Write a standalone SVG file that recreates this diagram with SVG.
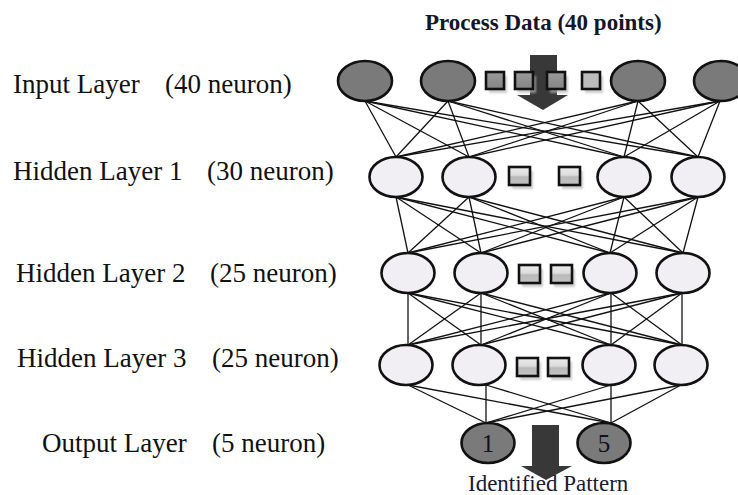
<svg xmlns="http://www.w3.org/2000/svg" width="738" height="495" viewBox="0 0 738 495">
<defs>
<style>
.lbl{font-family:"Liberation Serif","Times New Roman",serif;font-size:27px;fill:#111}
.ttl{font-family:"Liberation Serif","Times New Roman",serif;font-size:23px;font-weight:bold;fill:#15152a}
.pat{font-family:"Liberation Serif","Times New Roman",serif;font-size:23px;fill:#1a1a33}
.num{font-family:"Liberation Serif","Times New Roman",serif;font-size:25px;fill:#111122;text-anchor:middle}
.dark{fill:#7a7a7a;stroke:#111;stroke-width:2.6}
.light{fill:#f1eff3;stroke:#111;stroke-width:2.6}
.sq{stroke:#111;stroke-width:2.6}
.sh{fill:#b8b8b8;opacity:0.7;filter:url(#blur)}
.arr{fill:#383838}
#connectors line{stroke:#111;stroke-width:1.3}
</style>
<filter id="blur" x="-30%" y="-30%" width="160%" height="160%"><feGaussianBlur stdDeviation="1.2"/></filter>
<linearGradient id="gl" x1="0" y1="0" x2="0" y2="1">
<stop offset="0" stop-color="#ececec"/><stop offset="0.45" stop-color="#dcdcdc"/><stop offset="0.55" stop-color="#b9b9b9"/><stop offset="1" stop-color="#c4c4c4"/>
</linearGradient>
<linearGradient id="gd" x1="0" y1="0" x2="0" y2="1">
<stop offset="0" stop-color="#9a9a9a"/><stop offset="1" stop-color="#858585"/>
</linearGradient>
</defs>
<rect width="738" height="495" fill="#fff"/>

<g id="labels">
<text class="ttl" x="425" y="30">Process Data (40 points)</text>
<text class="lbl" x="13" y="93">Input Layer</text><text class="lbl" x="165" y="93">(40 neuron)</text>
<text class="lbl" x="13" y="180">Hidden Layer 1</text><text class="lbl" x="207" y="180">(30 neuron)</text>
<text class="lbl" x="16" y="282">Hidden Layer 2</text><text class="lbl" x="210" y="282">(25 neuron)</text>
<text class="lbl" x="17" y="367">Hidden Layer 3</text><text class="lbl" x="212" y="367">(25 neuron)</text>
<text class="lbl" x="42" y="452">Output Layer</text><text class="lbl" x="212" y="452">(5 neuron)</text>
</g>

<g id="connectors">
<line x1="365" y1="101" x2="396" y2="157"/><line x1="365" y1="101" x2="469" y2="157"/><line x1="365" y1="101" x2="624" y2="157"/><line x1="365" y1="101" x2="698" y2="157"/>
<line x1="448" y1="101" x2="396" y2="157"/><line x1="448" y1="101" x2="469" y2="157"/><line x1="448" y1="101" x2="624" y2="157"/><line x1="448" y1="101" x2="698" y2="157"/>
<line x1="638" y1="101" x2="396" y2="157"/><line x1="638" y1="101" x2="469" y2="157"/><line x1="638" y1="101" x2="624" y2="157"/><line x1="638" y1="101" x2="698" y2="157"/>
<line x1="720" y1="101" x2="396" y2="157"/><line x1="720" y1="101" x2="469" y2="157"/><line x1="720" y1="101" x2="624" y2="157"/><line x1="720" y1="101" x2="698" y2="157"/>
<line x1="396" y1="197" x2="408" y2="253"/><line x1="396" y1="197" x2="481" y2="253"/><line x1="396" y1="197" x2="610" y2="253"/><line x1="396" y1="197" x2="683" y2="253"/>
<line x1="469" y1="197" x2="408" y2="253"/><line x1="469" y1="197" x2="481" y2="253"/><line x1="469" y1="197" x2="610" y2="253"/><line x1="469" y1="197" x2="683" y2="253"/>
<line x1="624" y1="197" x2="408" y2="253"/><line x1="624" y1="197" x2="481" y2="253"/><line x1="624" y1="197" x2="610" y2="253"/><line x1="624" y1="197" x2="683" y2="253"/>
<line x1="698" y1="197" x2="408" y2="253"/><line x1="698" y1="197" x2="481" y2="253"/><line x1="698" y1="197" x2="610" y2="253"/><line x1="698" y1="197" x2="683" y2="253"/>
<line x1="408" y1="293" x2="408" y2="345"/><line x1="408" y1="293" x2="481" y2="345"/><line x1="408" y1="293" x2="611" y2="345"/><line x1="408" y1="293" x2="682" y2="345"/>
<line x1="481" y1="293" x2="408" y2="345"/><line x1="481" y1="293" x2="481" y2="345"/><line x1="481" y1="293" x2="611" y2="345"/><line x1="481" y1="293" x2="682" y2="345"/>
<line x1="611" y1="293" x2="408" y2="345"/><line x1="611" y1="293" x2="481" y2="345"/><line x1="611" y1="293" x2="611" y2="345"/><line x1="611" y1="293" x2="682" y2="345"/>
<line x1="682" y1="293" x2="408" y2="345"/><line x1="682" y1="293" x2="481" y2="345"/><line x1="682" y1="293" x2="611" y2="345"/><line x1="682" y1="293" x2="682" y2="345"/>
<line x1="408" y1="385" x2="486" y2="423"/><line x1="408" y1="385" x2="611" y2="423"/>
<line x1="486" y1="385" x2="486" y2="423"/><line x1="486" y1="385" x2="611" y2="423"/>
<line x1="611" y1="385" x2="486" y2="423"/><line x1="611" y1="385" x2="611" y2="423"/>
<line x1="681" y1="385" x2="486" y2="423"/><line x1="681" y1="385" x2="611" y2="423"/>
</g>

<g id="arrow-in"><polygon class="arr" points="530,55 557,55 557,95 568,95 543,110 517,95 530,95"/></g>

<g id="input-layer">
<g id="in1"><ellipse class="dark" cx="365" cy="81" rx="27" ry="20"/></g>
<g id="in2"><ellipse class="dark" cx="448" cy="81" rx="27" ry="20"/></g>
<g id="in-dots">
<rect class="sh" x="489" y="76" width="18" height="17"/><rect class="sq" x="486" y="72" width="18" height="17" fill="url(#gd)"/>
<rect class="sh" x="518" y="76" width="18" height="17"/><rect class="sq" x="515" y="72" width="18" height="17" fill="url(#gd)"/>
<rect class="sh" x="550" y="76" width="18" height="17"/><rect class="sq" x="547" y="72" width="18" height="17" fill="url(#gd)"/>
<rect class="sh" x="585" y="76" width="18" height="17"/><rect class="sq" x="582" y="72" width="18" height="17" fill="#bcbcbc"/>
</g>
<g id="in3"><ellipse class="dark" cx="638" cy="81" rx="27" ry="20"/></g>
<g id="in4"><ellipse class="dark" cx="721" cy="81" rx="27" ry="20"/></g>
</g>

<g id="hidden-1">
<g id="h1a"><ellipse class="light" cx="396" cy="177" rx="26.5" ry="20"/></g>
<g id="h1b"><ellipse class="light" cx="469" cy="177" rx="26.5" ry="20"/></g>
<g id="h1-dots">
<rect class="sh" x="512" y="171" width="21" height="18"/><rect class="sq" x="509" y="167" width="21" height="18" fill="url(#gl)"/>
<rect class="sh" x="562" y="171" width="21" height="18"/><rect class="sq" x="559" y="167" width="21" height="18" fill="url(#gl)"/>
</g>
<g id="h1c"><ellipse class="light" cx="624" cy="177" rx="26.5" ry="20"/></g>
<g id="h1d"><ellipse class="light" cx="698" cy="177" rx="26.5" ry="20"/></g>
</g>

<g id="hidden-2">
<g id="h2a"><ellipse class="light" cx="408" cy="273" rx="26.5" ry="20"/></g>
<g id="h2b"><ellipse class="light" cx="481" cy="273" rx="26.5" ry="20"/></g>
<g id="h2-dots">
<rect class="sh" x="522" y="269" width="21" height="18"/><rect class="sq" x="519" y="265" width="21" height="18" fill="url(#gl)"/>
<rect class="sh" x="554" y="269" width="21" height="18"/><rect class="sq" x="551" y="265" width="21" height="18" fill="url(#gl)"/>
</g>
<g id="h2c"><ellipse class="light" cx="610" cy="273" rx="26.5" ry="20"/></g>
<g id="h2d"><ellipse class="light" cx="683" cy="273" rx="26.5" ry="20"/></g>
</g>

<g id="hidden-3">
<g id="h3a"><ellipse class="light" cx="406" cy="365" rx="26.5" ry="20"/></g>
<g id="h3b"><ellipse class="light" cx="479" cy="365" rx="26.5" ry="20"/></g>
<g id="h3-dots">
<rect class="sh" x="520" y="362" width="21" height="18"/><rect class="sq" x="517" y="358" width="21" height="18" fill="url(#gl)"/>
<rect class="sh" x="551" y="362" width="21" height="18"/><rect class="sq" x="548" y="358" width="21" height="18" fill="url(#gl)"/>
</g>
<g id="h3c"><ellipse class="light" cx="609" cy="365" rx="26.5" ry="20"/></g>
<g id="h3d"><ellipse class="light" cx="681" cy="365" rx="26.5" ry="20"/></g>
</g>

<g id="arrow-out"><polygon class="arr" points="532,425 559,425 559,466 572,466 546,480 521,466 532,466"/></g>

<g id="output-layer">
<g id="out1"><ellipse class="dark" cx="488" cy="443" rx="26.5" ry="20"/><text class="num" x="488" y="452">1</text></g>
<g id="out5"><ellipse class="dark" cx="604" cy="443" rx="26.5" ry="20"/><text class="num" x="604" y="452">5</text></g>
</g>

<text class="pat" x="468" y="491">Identified Pattern</text>
</svg>
